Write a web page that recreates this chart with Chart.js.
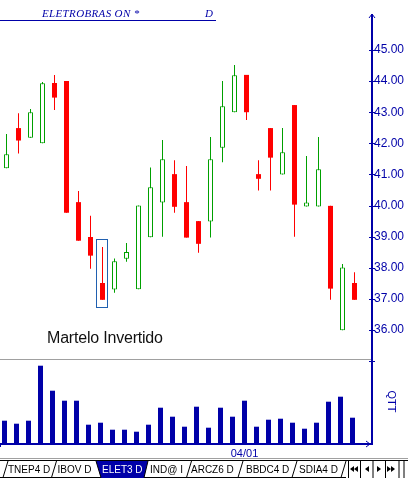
<!DOCTYPE html>
<html>
<head>
<meta charset="utf-8">
<script src="https://cdn.jsdelivr.net/npm/chart.js@4.4.1/dist/chart.umd.min.js"></script>
<style>
  body { margin: 0; background: #fff; }
  #wrap { position: relative; width: 408px; height: 480px; overflow: hidden; background: #fff;
          font-family: "Liberation Sans", Arial, sans-serif; }
  canvas { position: absolute; left: 0; }
  #priceCanvas { top: 0; }
  #volCanvas { top: 359px; }
  .txt { position: absolute; white-space: nowrap; }
  #title, #titleD { top: 8px; font: italic 11px/11px "Liberation Serif", serif; color: #0000a8; letter-spacing: 0.35px; }
  #title { left: 42px; }
  #titleD { left: 205px; }
  #titleLine { position: absolute; left: 0; top: 20px; width: 216px; height: 1px; background: #0000a8; }
  #pattern { left: 47px; top: 330px; font: 16px/16px "Liberation Sans", Arial, sans-serif; color: #111; letter-spacing: -0.2px; }
  #sep { position: absolute; left: 0; top: 359px; width: 371px; height: 1px; background: #a0a0a0; }
  #tabs { position: absolute; left: 0; top: 458px; }
</style>
</head>
<body>
<div id="wrap">
  <canvas id="priceCanvas" width="408" height="359"></canvas>
  <canvas id="volCanvas" width="408" height="100"></canvas>
  <div id="title" class="txt">ELETROBRAS ON *</div>
  <div id="titleD" class="txt">D</div>
  <div id="titleLine"></div>
  <div id="pattern" class="txt">Martelo Invertido</div>
  <div id="sep"></div>
  <svg id="tabs" width="408" height="22" font-family="Liberation Sans, Arial, sans-serif" font-size="10">
    <line x1="0" y1="0.5" x2="408" y2="0.5" stroke="#a0a0a0"/>
    <line x1="0" y1="2.5" x2="408" y2="2.5" stroke="#000"/>
    <line x1="0" y1="19.5" x2="346" y2="19.5" stroke="#000"/>
    <polygon points="96,3 148,3 144,20 101,20" fill="#0000a8"/>
    <path d="M3 19.5 L8 3 M51.5 19.5 L56.5 3 M96 3 L101 19.5 M148 3 L144 19.5 M186.5 19.5 L191.5 3 M238 19.5 L243 3 M292 19.5 L297 3 M341 19.5 L346 3" stroke="#000" fill="none"/>
    <text x="8" y="15">TNEP4 D</text>
    <text x="57.5" y="15">IBOV D</text>
    <text x="102" y="15" fill="#fff">ELET3 D</text>
    <text x="150" y="15">IND@ I</text>
    <text x="191" y="15">ARCZ6 D</text>
    <text x="246" y="15">BBDC4 D</text>
    <text x="299" y="15">SDIA4 D</text>
    <path d="M348.5 3 V20 M360.5 3 V20 M373 3 V20 M385.5 3 V20 M399 3 V20 M404 3 V20" stroke="#000" fill="none"/>
    <polygon points="350,11 354,8 354,14" fill="#000"/>
    <polygon points="354,11 358,8 358,14" fill="#000"/>
    <polygon points="365,11 369,8 369,14" fill="#000"/>
    <polygon points="381,11 377,8 377,14" fill="#000"/>
    <polygon points="391,11 387,8 387,14" fill="#000"/>
    <polygon points="395,11 391,8 391,14" fill="#000"/>
  </svg>
</div>
<script>
// daily candles, ELET3
const open  = [41.20, 42.49, 42.18, 42.00, 43.94, 44.00, 40.11, 38.99, 37.51, 37.30,
               38.29, 37.31, 38.98, 40.10, 41.01, 40.11, 39.50, 39.49, 41.86, 43.00,
               44.20, 41.01, 42.49, 41.00, 43.23, 39.97, 39.97, 39.99, 35.99, 37.51];
const high  = [42.30, 42.97, 43.10, 43.97, 44.20, 44.00, 40.47, 39.67, 38.67, 38.30,
               38.80, 40.00, 41.22, 42.11, 41.46, 41.27, 39.50, 42.20, 44.00, 44.52,
               44.20, 41.46, 42.49, 42.49, 43.23, 41.59, 42.20, 39.99, 38.12, 37.86];
const low   = [41.20, 41.67, 42.18, 42.00, 43.07, 39.77, 38.87, 37.97, 36.97, 37.20,
               38.19, 37.31, 38.98, 39.00, 39.77, 38.97, 38.48, 38.97, 41.39, 43.00,
               42.75, 40.48, 40.48, 41.00, 39.00, 39.97, 39.97, 36.97, 35.99, 36.97];
const close = [41.65, 42.09, 43.00, 43.93, 43.47, 39.77, 38.87, 38.39, 36.97, 38.21,
               38.51, 40.00, 40.59, 41.49, 39.96, 38.97, 38.77, 41.49, 43.19, 44.19,
               43.00, 40.86, 41.54, 41.71, 40.03, 40.10, 41.17, 37.33, 38.01, 36.97];
// volume (QTT), relative units
const volume = [233, 203, 233, 783, 533, 433, 433, 193, 213, 143,
                143, 123, 193, 363, 273, 173, 373, 163, 363, 273,
                433, 173, 243, 253, 213, 153, 213, 423, 473, 263];

const priceTicks = [36, 37, 38, 39, 40, 41, 42, 43, 44, 45];
const dateTicks = [19.5];          // boundary before the first session of the month
const dateLabels = ['04/01'];
const patternAt = 8;               // "Martelo Invertido" candle

const AXIS = '#0000a8';
const UP = '#00a000';
const DOWN = '#ff0000';

const sessions = open.map((_, i) => i);
const isUp = sessions.map(i => close[i] >= open[i]);

// right axis: fixed width, no extra label padding
function fixAxis(s) {
  s.width = 36;
  s.paddingTop = 0;
  s.paddingBottom = 0;
}

// extra marks: crossing ticks, axis arrow, pattern box
const priceDeco = {
  id: 'priceDeco',
  afterDraw(chart) {
    const ctx = chart.ctx, a = chart.chartArea;
    const xs = chart.scales.x, ys = chart.scales.y;
    ctx.save();
    ctx.strokeStyle = AXIS;
    ctx.lineWidth = 1;
    ys.ticks.forEach(t => {
      const py = Math.round(ys.getPixelForValue(t.value)) + 0.5;
      ctx.beginPath();
      ctx.moveTo(a.right - 3, py);
      ctx.lineTo(a.right + 3, py);
      ctx.stroke();
    });
    ctx.beginPath();
    ctx.moveTo(a.right - 3, a.top + 3);
    ctx.lineTo(a.right, a.top - 1);
    ctx.lineTo(a.right + 3, a.top + 3);
    ctx.stroke();

    const px = Math.floor(xs.getPixelForValue(patternAt));
    const top = Math.round(ys.getPixelForValue(high[patternAt])) - 8;
    const bot = Math.round(ys.getPixelForValue(low[patternAt])) + 7;
    ctx.strokeStyle = '#2060b0';
    ctx.strokeRect(px - 6 + 0.5, top + 0.5, 11, bot - top);
    ctx.restore();
  }
};

const volDeco = {
  id: 'volDeco',
  afterDraw(chart) {
    const ctx = chart.ctx, a = chart.chartArea;
    ctx.save();
    ctx.strokeStyle = AXIS;
    ctx.lineWidth = 1;
    ctx.beginPath();
    ctx.moveTo(a.right - 6, a.bottom - 3);
    ctx.lineTo(a.right - 2, a.bottom);
    ctx.lineTo(a.right - 6, a.bottom + 3);
    ctx.stroke();
    ctx.beginPath();
    ctx.moveTo(a.right - 3, a.top + 2.5);
    ctx.lineTo(a.right + 3, a.top + 2.5);
    ctx.stroke();
    ctx.restore();
  }
};

const priceChart = new Chart(document.getElementById('priceCanvas'), {
  type: 'bar',
  data: {
    datasets: [{
      // wicks
      data: sessions.map(i => ({ x: i, y: [low[i], high[i]] })),
      backgroundColor: sessions.map(i => isUp[i] ? UP : DOWN),
      barThickness: 1,
      grouped: false,
      inflateAmount: 0,
      order: 2
    }, {
      // bodies
      data: sessions.map(i => ({ x: i, y: [open[i], close[i]] })),
      backgroundColor: sessions.map(i => isUp[i] ? '#ffffff' : DOWN),
      borderColor: sessions.map(i => isUp[i] ? UP : DOWN),
      borderWidth: sessions.map(i => isUp[i] ? 1 : 0),
      borderSkipped: false,
      barThickness: 5,
      grouped: false,
      inflateAmount: 0,
      order: 1
    }]
  },
  options: {
    responsive: false,
    animation: false,
    events: [],
    layout: { padding: { top: 15, bottom: 1, left: 0, right: 0 } },
    plugins: { legend: { display: false }, tooltip: { enabled: false } },
    scales: {
      x: {
        type: 'linear',
        display: false,
        offset: false,
        min: -6.5 / 12,
        max: -6.5 / 12 + 31
      },
      y: {
        position: 'right',
        min: 35.10,
        max: 46.125,
        beginAtZero: false,
        afterFit: fixAxis,
        afterBuildTicks: s => { s.ticks = priceTicks.map(v => ({ value: v })); },
        grid: { drawOnChartArea: false, drawTicks: false },
        border: { color: AXIS, width: 2 },
        ticks: {
          padding: 2,
          color: AXIS,
          font: { family: 'Liberation Sans', size: 12 },
          callback: v => Number(v).toFixed(2)
        }
      }
    }
  },
  plugins: [priceDeco]
});

const volChart = new Chart(document.getElementById('volCanvas'), {
  type: 'bar',
  data: {
    datasets: [{
      data: sessions.map(i => ({ x: i, y: volume[i] })),
      backgroundColor: AXIS,
      barThickness: 5,
      inflateAmount: 0
    }]
  },
  options: {
    responsive: false,
    animation: false,
    events: [],
    layout: { padding: 0 },
    plugins: { legend: { display: false }, tooltip: { enabled: false } },
    scales: {
      x: {
        type: 'linear',
        offset: false,
        min: -4.5 / 12,
        max: -4.5 / 12 + 31,
        afterFit: s => { s.height = 15; s.paddingLeft = 0; s.paddingRight = 0; },
        afterBuildTicks: s => { s.ticks = dateTicks.map(v => ({ value: v })); },
        grid: { drawOnChartArea: false, tickLength: 3, color: AXIS },
        border: { color: AXIS, width: 2 },
        ticks: {
          autoSkip: false,
          maxRotation: 0,
          padding: 0,
          labelOffset: 6,
          color: AXIS,
          font: { family: 'Liberation Sans', size: 11 },
          callback: (v, idx) => dateLabels[idx]
        }
      },
      y: {
        position: 'right',
        min: 0,
        max: 850,
        afterFit: fixAxis,
        grid: { display: false },
        border: { color: AXIS, width: 2 },
        ticks: { display: false },
        title: {
          display: true,
          text: 'QTT',
          color: AXIS,
          font: { family: 'Liberation Sans', size: 11 },
          padding: { top: 10, bottom: 0 }
        }
      }
    }
  },
  plugins: [volDeco]
});
</script>
</body>
</html>
